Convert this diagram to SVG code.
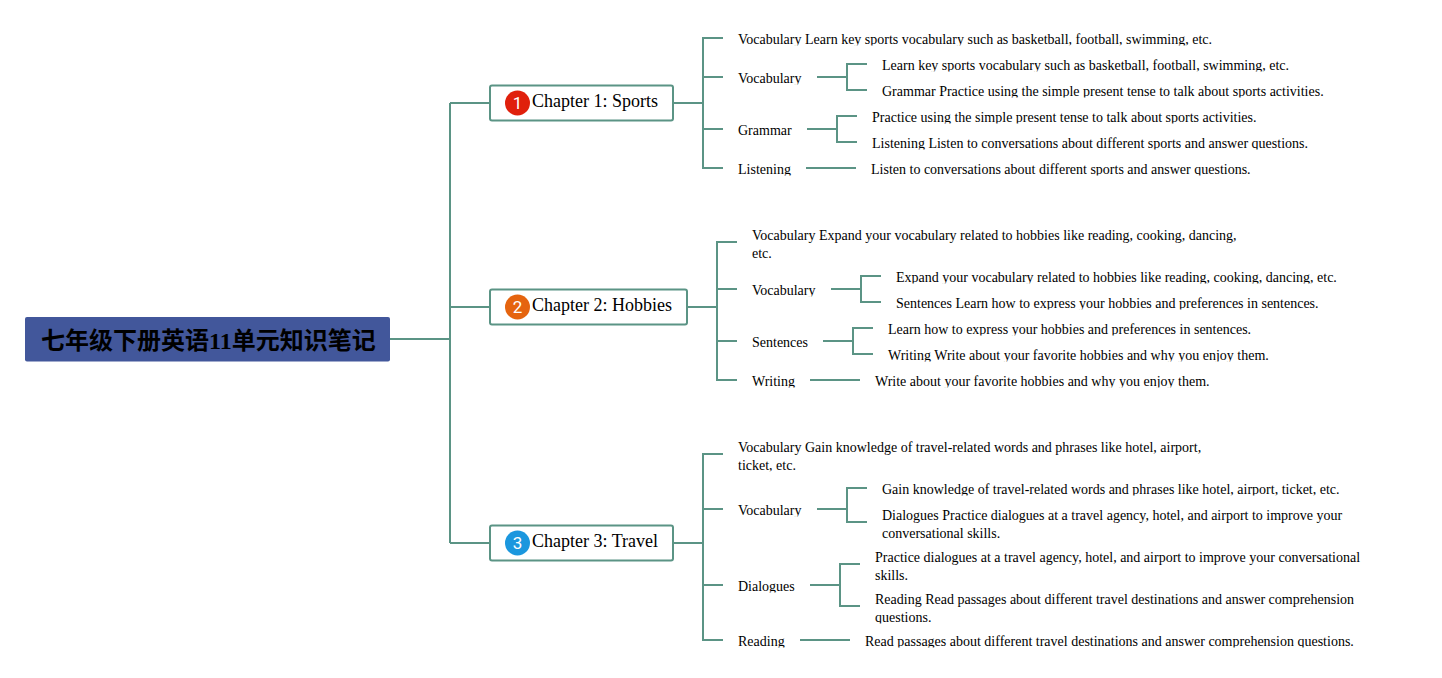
<svg xmlns="http://www.w3.org/2000/svg" width="1442" height="678" viewBox="0 0 1442 678">
<defs><clipPath id="clip">
<rect x="730" y="28" width="600" height="17.500"/><rect x="730" y="67" width="80" height="17.500"/><rect x="875" y="54" width="500" height="17.500"/><rect x="875" y="80" width="500" height="17.500"/>
<rect x="730" y="119" width="70" height="17.500"/><rect x="865" y="106" width="500" height="17.500"/><rect x="865" y="132" width="500" height="17.500"/><rect x="730" y="158" width="70" height="17.500"/><rect x="865" y="158" width="500" height="17.500"/>
<rect x="745" y="224" width="600" height="35.500"/><rect x="745" y="279" width="80" height="17.500"/><rect x="890" y="266" width="500" height="17.500"/><rect x="890" y="292" width="500" height="17.500"/>
<rect x="745" y="331" width="75" height="17.500"/><rect x="880" y="318" width="500" height="17.500"/><rect x="880" y="344" width="500" height="17.500"/><rect x="745" y="370" width="60" height="17.500"/><rect x="870" y="370" width="500" height="17.500"/>
<rect x="730" y="436" width="600" height="35.500"/><rect x="730" y="499" width="80" height="17.500"/><rect x="875" y="478" width="500" height="17.500"/><rect x="875" y="504" width="500" height="35.500"/>
<rect x="730" y="575" width="75" height="17.500"/><rect x="870" y="546" width="500" height="35.500"/><rect x="870" y="588" width="500" height="35.500"/><rect x="730" y="630" width="65" height="17.500"/><rect x="860" y="630" width="520" height="17.500"/>
</clipPath></defs>
<style>
.c{fill:none;stroke:#5b9485;stroke-width:2}
text{font-family:"Liberation Serif","Noto Sans CJK SC",serif;fill:#000}
.l{font-size:14px;clip-path:url(#clip)}
.h{font-size:18px}
.t{font-size:24px;font-weight:bold}
.b{fill:#fff;stroke:#5b9485;stroke-width:2}
.n{font-family:Roboto,sans-serif;font-size:17px;fill:#fff;text-anchor:middle}
</style>
<rect width="1442" height="678" fill="#fff"/>
<g id="connectors" class="c">
<path d="M390 339H450M450 103V543M450 103H490M450 307H490M450 543H490"/>
<path d="M673 103H703M723 38H703V168H723M703 77H723M703 129H723"/>
<path d="M817 77H847M867 64H847V90H867M807 129H837M857 116H837V142H857M806 168H856"/>
<path d="M687 307H717M737 242H717V380H737M717 289H737M717 341H737"/>
<path d="M831 289H861M881 276H861V302H881M823 341H853M873 328H853V354H873M810 380H860"/>
<path d="M673 543H703M723 454H703V640H723M703 509H723M703 585H723"/>
<path d="M817 509H847M867 488H847V522H867M810 585H840M860 564H840V606H860M800 640H850"/>
</g>
<g id="root"><rect x="25" y="317" width="365" height="44.500" rx="2" fill="#42579b"/><text class="t" x="41" y="349">七年级下册英语11单元知识笔记</text></g>
<g id="ch1"><rect class="b" x="490" y="85.500" width="183" height="35" rx="2"/><circle cx="517.500" cy="103" r="12.500" fill="#e0200c"/><text class="n" x="517.500" y="109">1</text><text class="h" x="532" y="107">Chapter 1: Sports</text></g>
<g id="ch2"><rect class="b" x="490" y="289.500" width="197" height="35" rx="2"/><circle cx="517.500" cy="307" r="12.500" fill="#e5640f"/><text class="n" x="517.500" y="313">2</text><text class="h" x="532" y="311">Chapter 2: Hobbies</text></g>
<g id="ch3"><rect class="b" x="490" y="525.500" width="183" height="35" rx="2"/><circle cx="517.500" cy="543" r="12.500" fill="#1b97de"/><text class="n" x="517.500" y="549">3</text><text class="h" x="532" y="547">Chapter 3: Travel</text></g>
<g id="s1-0"><text class="l" x="738" y="44">Vocabulary Learn key sports vocabulary such as basketball, football, swimming, etc.</text></g>
<g id="s1-1"><text class="l" x="738" y="83">Vocabulary</text></g>
<g id="s1-1a"><text class="l" x="882" y="70">Learn key sports vocabulary such as basketball, football, swimming, etc.</text></g>
<g id="s1-1b"><text class="l" x="882" y="96">Grammar Practice using the simple present tense to talk about sports activities.</text></g>
<g id="s1-2"><text class="l" x="738" y="135">Grammar</text></g>
<g id="s1-2a"><text class="l" x="872" y="122">Practice using the simple present tense to talk about sports activities.</text></g>
<g id="s1-2b"><text class="l" x="872" y="148">Listening Listen to conversations about different sports and answer questions.</text></g>
<g id="s1-3"><text class="l" x="738" y="174">Listening</text></g>
<g id="s1-3a"><text class="l" x="871" y="174">Listen to conversations about different sports and answer questions.</text></g>
<g id="s2-0"><text class="l" x="752" y="240">Vocabulary Expand your vocabulary related to hobbies like reading, cooking, dancing,</text><text class="l" x="752" y="258">etc.</text></g>
<g id="s2-1"><text class="l" x="752" y="295">Vocabulary</text></g>
<g id="s2-1a"><text class="l" x="896" y="282">Expand your vocabulary related to hobbies like reading, cooking, dancing, etc.</text></g>
<g id="s2-1b"><text class="l" x="896" y="308">Sentences Learn how to express your hobbies and preferences in sentences.</text></g>
<g id="s2-2"><text class="l" x="752" y="347">Sentences</text></g>
<g id="s2-2a"><text class="l" x="888" y="334">Learn how to express your hobbies and preferences in sentences.</text></g>
<g id="s2-2b"><text class="l" x="888" y="360">Writing Write about your favorite hobbies and why you enjoy them.</text></g>
<g id="s2-3"><text class="l" x="752" y="386">Writing</text></g>
<g id="s2-3a"><text class="l" x="875" y="386">Write about your favorite hobbies and why you enjoy them.</text></g>
<g id="s3-0"><text class="l" x="738" y="452">Vocabulary Gain knowledge of travel-related words and phrases like hotel, airport,</text><text class="l" x="738" y="470">ticket, etc.</text></g>
<g id="s3-1"><text class="l" x="738" y="515">Vocabulary</text></g>
<g id="s3-1a"><text class="l" x="882" y="494">Gain knowledge of travel-related words and phrases like hotel, airport, ticket, etc.</text></g>
<g id="s3-1b"><text class="l" x="882" y="520">Dialogues Practice dialogues at a travel agency, hotel, and airport to improve your</text><text class="l" x="882" y="538">conversational skills.</text></g>
<g id="s3-2"><text class="l" x="738" y="591">Dialogues</text></g>
<g id="s3-2a"><text class="l" x="875" y="562">Practice dialogues at a travel agency, hotel, and airport to improve your conversational</text><text class="l" x="875" y="580">skills.</text></g>
<g id="s3-2b"><text class="l" x="875" y="604">Reading Read passages about different travel destinations and answer comprehension</text><text class="l" x="875" y="622">questions.</text></g>
<g id="s3-3"><text class="l" x="738" y="646">Reading</text></g>
<g id="s3-3a"><text class="l" x="865" y="646">Read passages about different travel destinations and answer comprehension questions.</text></g>
</svg>
